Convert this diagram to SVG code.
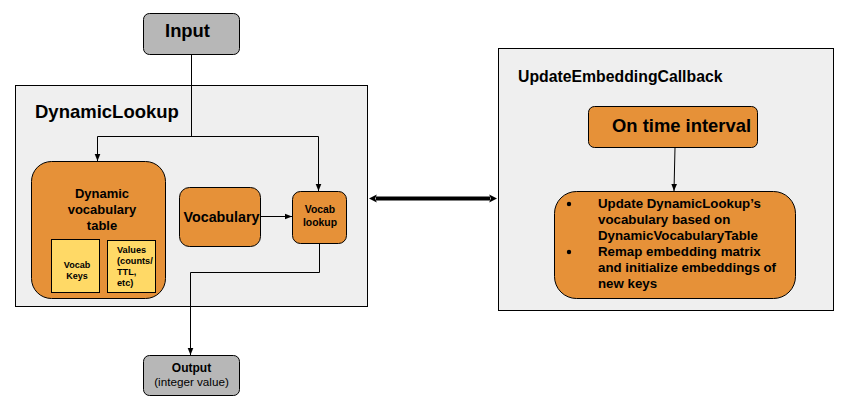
<svg xmlns="http://www.w3.org/2000/svg" width="853" height="415" viewBox="0 0 853 415">
<defs>
<style>
text{font-family:"Liberation Sans",Arial,sans-serif;fill:#000}
.b{font-weight:bold}
.orange{fill:#e69138;stroke:#000;stroke-width:1}
.gray{fill:#b7b7b7;stroke:#000;stroke-width:1}
.yellow{fill:#ffd966;stroke:#000;stroke-width:1}
.panel{fill:#efefef;stroke:#000;stroke-width:1}
.line{fill:none;stroke:#000;stroke-width:1}
</style>
<marker id="ah" viewBox="0 0 10 10" refX="10" refY="5" markerWidth="7" markerHeight="7" orient="auto" markerUnits="userSpaceOnUse">
<path d="M0,1 L10,5 L0,9 Z" fill="#000"/>
</marker>
<marker id="ahB" viewBox="0 0 10 10" refX="1" refY="5" markerWidth="8" markerHeight="9" orient="auto-start-reverse" markerUnits="userSpaceOnUse">
<path d="M0,0 L10,5 L0,10 L2,5 Z" fill="#000"/>
</marker>
</defs>
<rect width="853" height="415" fill="#fff"/>

<g id="dynamiclookup">
<rect class="panel" x="15.5" y="85.5" width="352" height="221"/>
<text class="b" x="35" y="118" font-size="18.5">DynamicLookup</text>
</g>

<g id="updatecallback">
<rect class="panel" x="498.5" y="48.5" width="335" height="262"/>
<text class="b" x="518" y="82" font-size="15.8">UpdateEmbeddingCallback</text>
</g>

<g id="input">
<rect class="gray" x="143.5" y="13.5" width="96" height="41" rx="6"/>
<text class="b" x="187.5" y="37" font-size="18.4" text-anchor="middle">Input</text>
</g>

<g id="dyntable">
<rect class="orange" x="31.5" y="161.5" width="134" height="137" rx="20"/>
<text class="b" font-size="13" text-anchor="middle"><tspan x="102" y="198">Dynamic</tspan><tspan x="102" y="214">vocabulary</tspan><tspan x="102" y="230">table</tspan></text>
</g>

<g id="vocabkeys">
<rect class="yellow" x="51.5" y="239.5" width="48" height="53"/>
<text class="b" font-size="9" text-anchor="middle"><tspan x="77" y="268">Vocab</tspan><tspan x="77" y="279">Keys</tspan></text>
</g>

<g id="values">
<rect class="yellow" x="107.5" y="240.5" width="48" height="52"/>
<text class="b" font-size="9.2"><tspan x="117" y="253">Values</tspan><tspan x="117" y="264">(counts/</tspan><tspan x="117" y="275">TTL,</tspan><tspan x="117" y="286">etc)</tspan></text>
</g>

<g id="vocabulary">
<rect class="orange" x="179.5" y="187.5" width="81" height="59" rx="10"/>
<text class="b" x="221.5" y="222" font-size="14.3" text-anchor="middle">Vocabulary</text>
</g>

<g id="vocablookup">
<rect class="orange" x="292.5" y="191.5" width="54" height="52" rx="8"/>
<text class="b" font-size="10.4" text-anchor="middle"><tspan x="320" y="213">Vocab</tspan><tspan x="320" y="226">lookup</tspan></text>
</g>

<g id="output">
<rect class="gray" x="143.5" y="355.5" width="96" height="40" rx="6"/>
<text class="b" x="191.5" y="372" font-size="12" text-anchor="middle">Output</text>
<text x="191.5" y="386" font-size="11.7" text-anchor="middle">(integer value)</text>
</g>

<g id="ontime">
<rect class="orange" x="588.5" y="106.5" width="169" height="41" rx="6"/>
<text class="b" x="612" y="132" font-size="18.4">On time interval</text>
</g>

<g id="update">
<rect class="orange" x="554.5" y="191.5" width="241" height="107" rx="22"/>
<circle cx="569" cy="204" r="2.2" fill="#000"/>
<circle cx="569" cy="252" r="2.2" fill="#000"/>
<text class="b" font-size="13.3"><tspan x="598" y="208">Update DynamicLookup’s</tspan><tspan x="598" y="224">vocabulary based on</tspan><tspan x="598" y="240">DynamicVocabularyTable</tspan><tspan x="598" y="256">Remap embedding matrix</tspan><tspan x="598" y="272">and initialize embeddings of</tspan><tspan x="598" y="288">new keys</tspan></text>
</g>

<g id="connectors">
<path class="line" d="M191.5,54.5 V136.5"/>
<path class="line" d="M97.5,136.5 H318.5"/>
<path class="line" d="M97.5,136.5 V161" marker-end="url(#ah)"/>
<path class="line" d="M318.5,136.5 V191" marker-end="url(#ah)"/>
<path class="line" d="M260.5,216.5 H292" marker-end="url(#ah)"/>
<path class="line" d="M319.5,243.5 V272.5 H190.5 V355" marker-end="url(#ah)"/>
<path class="line" d="M675,147.5 L674,191" marker-end="url(#ah)"/>
<path d="M376,198.5 H490" stroke="#000" stroke-width="4" fill="none" marker-start="url(#ahB)" marker-end="url(#ahB)"/>
</g>
</svg>
